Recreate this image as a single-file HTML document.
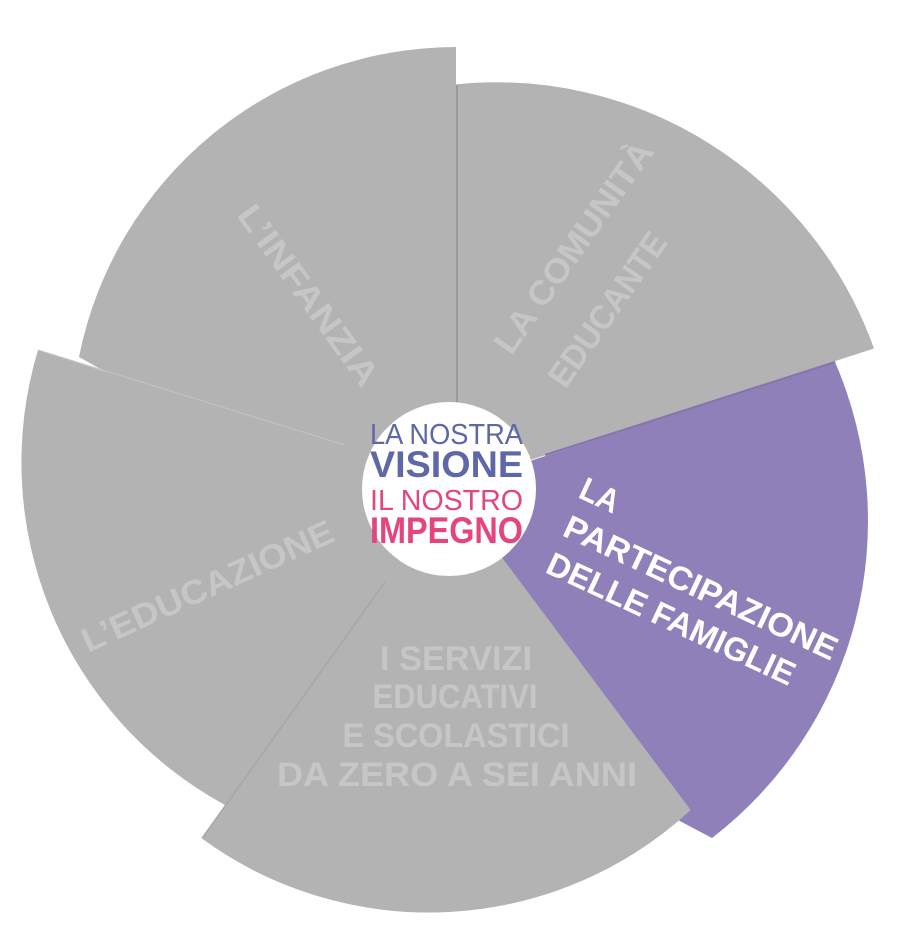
<!DOCTYPE html>
<html><head><meta charset="utf-8"><style>
html,body{margin:0;padding:0;background:#fff;}
svg{display:block;}
text{font-family:"Liberation Sans",sans-serif;}
</style></head><body>
<svg width="922" height="943" viewBox="0 0 922 943" xmlns="http://www.w3.org/2000/svg">
<!-- L'INFANZIA -->
<path d="M456,500 L200,425 L79,357 A385,385 0 0 1 456,47 Z" fill="#b3b3b3"/>
<!-- L'EDUCAZIONE -->
<path d="M449,482 L38,350 A390,390 0 0 0 225,805 L300,770 L470,520 Z" fill="#b3b3b3"/>
<line x1="38" y1="350" x2="345" y2="445" stroke="#c4c4c4" stroke-width="1"/>
<!-- COMUNITA -->
<path d="M457,483 L457,85 A400,400 0 0 1 873,348 Z" fill="#b3b3b3" stroke="#b3b3b3" stroke-width="1.5" stroke-linejoin="round"/>
<line x1="457" y1="85" x2="457" y2="440" stroke="#9a9a9a" stroke-width="2"/>
<!-- FAMIGLIE -->
<path d="M456,485 L835,362 A400,400 0 0 1 712,838 L640,800 L440,520 Z" fill="#8f80ba"/>
<line x1="545" y1="455" x2="835" y2="362" stroke="#8475ad" stroke-width="2"/>
<!-- SERVIZI -->
<path d="M451,490 L202,838 A385,385 0 0 0 690,810 Z" fill="#b3b3b3" stroke="#b3b3b3" stroke-width="1"/>
<line x1="385" y1="582" x2="203" y2="837" stroke="#a6a6a6" stroke-width="1.5"/>
<!-- center -->
<circle cx="449" cy="489" r="87" fill="#fff"/>

<g fill="#c6c6c6" font-weight="bold" font-size="34">
<text transform="translate(299,302) rotate(54)" text-anchor="middle" textLength="215" lengthAdjust="spacingAndGlyphs">L’INFANZIA</text>
<text transform="translate(583,254) rotate(-55)" text-anchor="middle" textLength="250" lengthAdjust="spacingAndGlyphs">LA COMUNITÀ</text>
<text transform="translate(617,316) rotate(-55)" text-anchor="middle" textLength="180" lengthAdjust="spacingAndGlyphs">EDUCANTE</text>
<text transform="translate(88,653) rotate(-24.4)" textLength="273" lengthAdjust="spacingAndGlyphs">L’EDUCAZIONE</text>
<text x="456" y="670" text-anchor="middle" textLength="152" lengthAdjust="spacingAndGlyphs">I SERVIZI</text>
<text x="455" y="708" text-anchor="middle" textLength="165" lengthAdjust="spacingAndGlyphs">EDUCATIVI</text>
<text x="456" y="747" text-anchor="middle" textLength="227" lengthAdjust="spacingAndGlyphs">E SCOLASTICI</text>
<text x="457" y="786" text-anchor="middle" textLength="360" lengthAdjust="spacingAndGlyphs">DA ZERO A SEI ANNI</text>
</g>
<g fill="#fff" font-weight="bold" font-size="33">
<text transform="translate(577,497) rotate(25)" textLength="40" lengthAdjust="spacingAndGlyphs">LA</text>
<text transform="translate(561,535) rotate(25)" textLength="298" lengthAdjust="spacingAndGlyphs">PARTECIPAZIONE</text>
<text transform="translate(544,572) rotate(25)" textLength="270" lengthAdjust="spacingAndGlyphs">DELLE FAMIGLIE</text>
</g>
<text x="370" y="444" font-size="29" fill="#5f68a6" textLength="153" lengthAdjust="spacingAndGlyphs">LA NOSTRA</text>
<text x="370" y="477" font-size="37" font-weight="bold" fill="#5f68a6" textLength="153" lengthAdjust="spacingAndGlyphs">VISIONE</text>
<text x="370" y="510" font-size="29" fill="#e4447f" textLength="153" lengthAdjust="spacingAndGlyphs">IL NOSTRO</text>
<text x="370" y="543" font-size="37" font-weight="bold" fill="#e4447f" textLength="153" lengthAdjust="spacingAndGlyphs">IMPEGNO</text>
</svg>
</body></html>
